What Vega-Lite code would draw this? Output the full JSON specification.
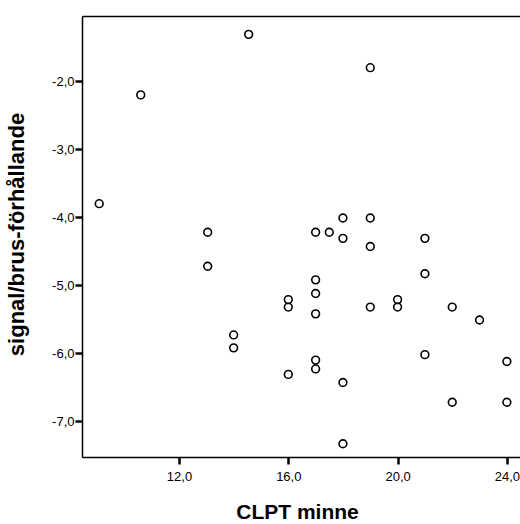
{
  "$schema": "https://vega.github.io/schema/vega-lite/v6.json",
  "width": 438,
  "height": 441,
  "autosize": {"type": "none"},
  "padding": {"left": 82, "top": 16, "right": 0, "bottom": 67},
  "background": "white",
  "config": {
    "view": {"stroke": null},
    "font": "Liberation Sans",
    "axis": {
      "grid": false,
      "domainColor": "black",
      "domainWidth": 1.5,
      "tickColor": "black",
      "tickWidth": 2.5,
      "tickSize": 7,
      "labelColor": "black",
      "labelFont": "Liberation Sans",
      "labelFontSize": 13,
      "titleColor": "black",
      "titleFont": "Liberation Sans",
      "titleFontWeight": "bold",
      "titleFontSize": 21
    }
  },
  "data": {
    "values": [
      {"clpt": 10.6, "snr": -2.2},
      {"clpt": 14.55, "snr": -1.31},
      {"clpt": 19.0, "snr": -1.8},
      {"clpt": 9.08, "snr": -3.8},
      {"clpt": 13.05, "snr": -4.22},
      {"clpt": 13.05, "snr": -4.72},
      {"clpt": 17.0, "snr": -4.22},
      {"clpt": 17.5, "snr": -4.22},
      {"clpt": 18.0, "snr": -4.01},
      {"clpt": 18.0, "snr": -4.31},
      {"clpt": 19.0, "snr": -4.01},
      {"clpt": 19.0, "snr": -4.43},
      {"clpt": 21.0, "snr": -4.31},
      {"clpt": 21.0, "snr": -4.83},
      {"clpt": 17.0, "snr": -4.92},
      {"clpt": 17.0, "snr": -5.12},
      {"clpt": 17.0, "snr": -5.42},
      {"clpt": 16.0, "snr": -5.21},
      {"clpt": 16.0, "snr": -5.32},
      {"clpt": 19.0, "snr": -5.32},
      {"clpt": 20.0, "snr": -5.21},
      {"clpt": 20.0, "snr": -5.32},
      {"clpt": 22.0, "snr": -5.32},
      {"clpt": 23.0, "snr": -5.51},
      {"clpt": 14.0, "snr": -5.73},
      {"clpt": 14.0, "snr": -5.92},
      {"clpt": 16.0, "snr": -6.31},
      {"clpt": 17.0, "snr": -6.1},
      {"clpt": 17.0, "snr": -6.23},
      {"clpt": 18.0, "snr": -6.43},
      {"clpt": 18.0, "snr": -7.33},
      {"clpt": 21.0, "snr": -6.02},
      {"clpt": 22.0, "snr": -6.72},
      {"clpt": 24.0, "snr": -6.12},
      {"clpt": 24.0, "snr": -6.72}
    ]
  },
  "layer": [
    {
      "mark": {"type": "point", "shape": "circle", "filled": false, "color": "black", "strokeWidth": 1.6, "size": 60, "opacity": 1, "clip": false},
      "encoding": {
        "x": {
          "field": "clpt", "type": "quantitative",
          "scale": {"domain": [8.45, 24.48], "nice": false, "zero": false},
          "axis": {
            "orient": "bottom",
            "values": [12, 16, 20, 24],
            "labelExpr": "replace(format(datum.value, '.1f'), '.', ',')",
            "labelFontSize": 13,
            "labelPadding": 6,
            "title": "CLPT minne",
            "titleX": 215,
            "titleY": 61,
            "titleBaseline": "alphabetic",
            "titleAnchor": null,
            "titleAlign": "center"
          }
        },
        "y": {
          "field": "snr", "type": "quantitative",
          "scale": {"domain": [-7.525, -1.04], "nice": false, "zero": false},
          "axis": {
            "values": [-7, -6, -5, -4, -3, -2],
            "labelExpr": "replace(replace(format(datum.value, '.1f'), '.', ','), '\u2212', '-')",
            "labelFontSize": 13,
            "labelPadding": 1,
            "title": "signal/brus-förhållande",
            "titleFontSize": 22,
            "titleX": -59,
            "titleY": 218,
            "titleAngle": 270,
            "titleBaseline": "alphabetic",
            "titleAlign": "center"
          }
        }
      }
    },
    {
      "mark": {"type": "point", "opacity": 0},
      "encoding": {
        "x": {
          "field": "clpt", "type": "quantitative",
          "axis": {"orient": "top", "labels": false, "ticks": false, "title": null, "domainWidth": 1.5}
        }
      }
    }
  ],
  "resolve": {"axis": {"x": "independent"}}
}
